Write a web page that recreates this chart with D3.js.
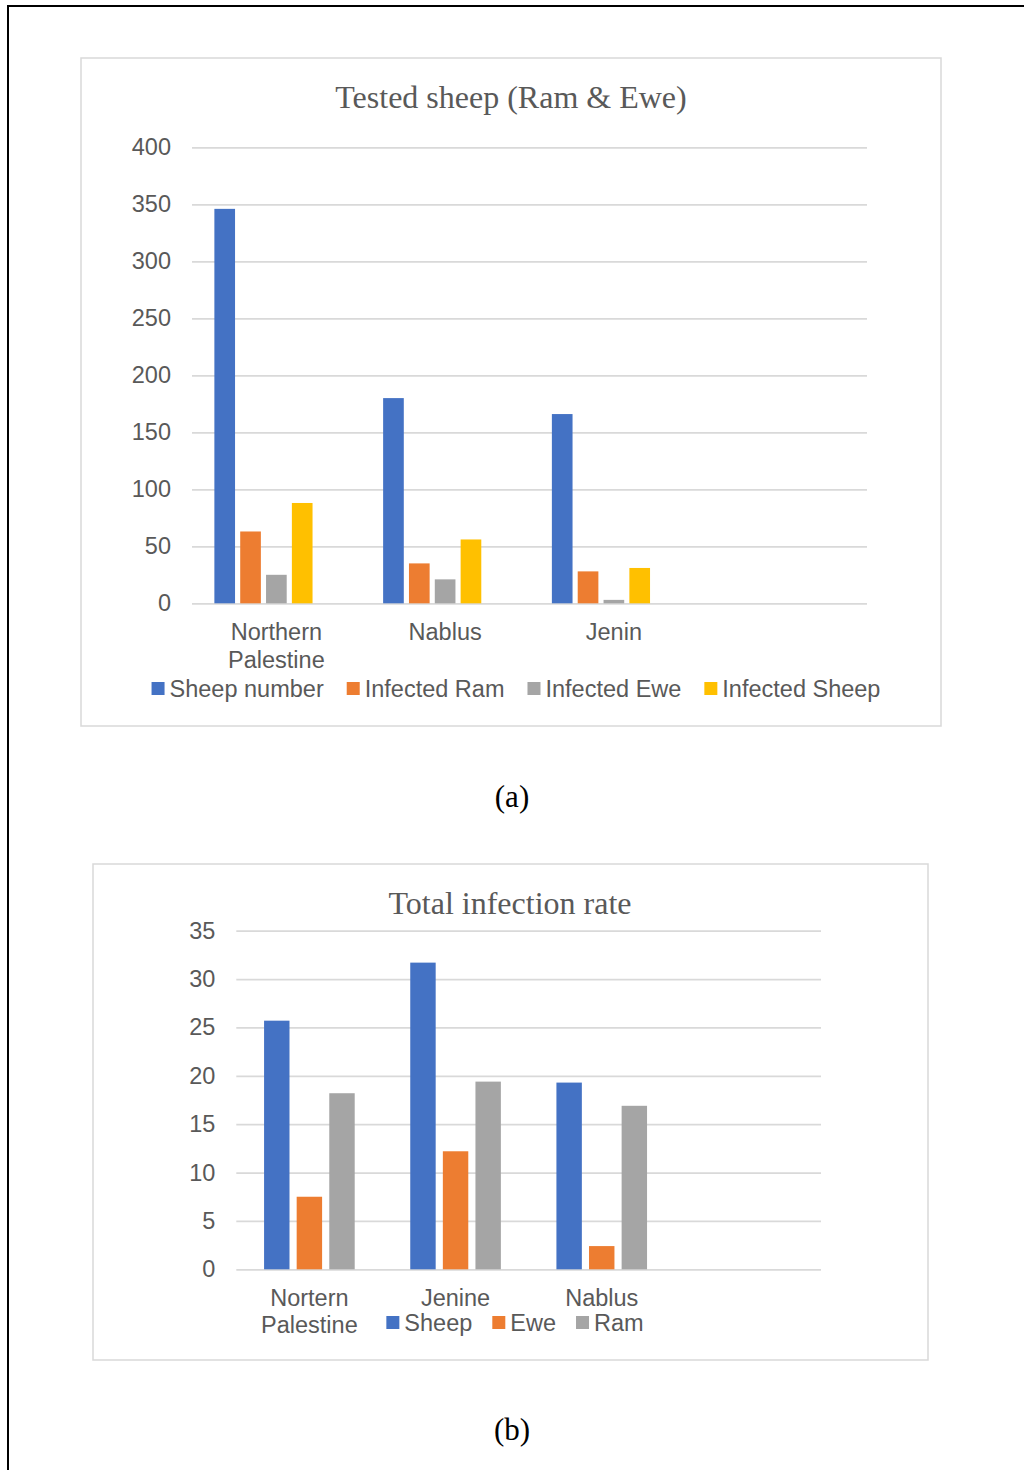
<!DOCTYPE html>
<html>
<head>
<meta charset="utf-8">
<script src="https://cdn.jsdelivr.net/npm/d3@7"></script>
<style>
  html, body { margin: 0; padding: 0; background: #fff; }
  svg { display: block; }
  .tick text { font-family: "Liberation Sans", Arial, sans-serif; fill: #595959; }
</style>
</head>
<body>
<svg id="fig" width="1024" height="1470"></svg>
<script>
// ---- (a) tested sheep per region ----
const regionsA = ["Northern Palestine", "Nablus", "Jenin", ""];
const sheepNumber   = [346, 180, 166, null];
const infectedRam   = [63, 35, 28, null];
const infectedEwe   = [25, 21, 3, null];
const infectedSheep = [88, 56, 31, null];
const seriesNamesA  = ["Sheep number", "Infected Ram", "Infected Ewe", "Infected Sheep"];
// the worksheet has a fifth, empty column that still takes a slot in each group
const slotsA = [...seriesNamesA, "(empty)"];
const yTicksA = [0, 50, 100, 150, 200, 250, 300, 350, 400];

// ---- (b) total infection rate ----
const regionsB = ["Nortern Palestine", "Jenine", "Nablus", ""];
const rateSheep = [25.7, 31.7, 19.3, null];
const rateEwe   = [7.5, 12.2, 2.4, null];
const rateRam   = [18.2, 19.4, 16.9, null];
const seriesNamesB = ["Sheep", "Ewe", "Ram"];
const yTicksB = [0, 5, 10, 15, 20, 25, 30, 35];

const palette = ["#4472C4", "#ED7D31", "#A5A5A5", "#FFC000"];
const SANS = '"Liberation Sans", Arial, sans-serif';
const SERIF = '"Liberation Serif", "Times New Roman", serif';
const TEXT = "#595959";
const GRID = "#d9d9d9";

const svg = d3.select("#fig");

// page frame
svg.append("line").attr("x1", 8).attr("y1", 6).attr("x2", 1024).attr("y2", 6)
  .attr("stroke", "#000").attr("stroke-width", 2);
svg.append("line").attr("x1", 8).attr("y1", 5).attr("x2", 8).attr("y2", 1470)
  .attr("stroke", "#000").attr("stroke-width", 2);

function drawChart(cfg) {
  const g = svg.append("g");
  // chart area border
  g.append("rect")
    .attr("x", cfg.box[0]).attr("y", cfg.box[1])
    .attr("width", cfg.box[2]).attr("height", cfg.box[3])
    .attr("fill", "#fff").attr("stroke", GRID).attr("stroke-width", 1.5);

  // title
  g.append("text")
    .attr("x", cfg.titleX).attr("y", cfg.titleY)
    .attr("text-anchor", "middle")
    .attr("font-family", SERIF).attr("font-size", 32).attr("fill", TEXT)
    .text(cfg.title);

  const y = d3.scaleLinear().domain(cfg.yDomain).range([cfg.plot.bottom, cfg.plot.top]);
  const x = d3.scaleBand().domain(cfg.categories).range([cfg.plot.left, cfg.plot.right]);
  const step = x.bandwidth();
  const inner = d3.scaleBand()
    .domain(cfg.slots)
    .range([cfg.groupInset * step, (1 - cfg.groupInset) * step])
    .paddingInner(cfg.barGap);

  // value axis with gridlines
  const yAxis = d3.axisLeft(y)
    .tickValues(cfg.yTicks)
    .tickSize(-(cfg.plot.right - cfg.plot.left))
    .tickPadding(21)
    .tickFormat(d3.format("d"));
  const ya = g.append("g")
    .attr("transform", `translate(${cfg.plot.left},0)`)
    .call(yAxis);
  ya.select(".domain").remove();
  ya.selectAll(".tick line").attr("stroke", GRID).attr("stroke-width", 1.8);
  ya.selectAll(".tick text").attr("font-size", 23.5).attr("fill", TEXT);

  // bars
  cfg.series.forEach((vals, si) => {
    const name = cfg.seriesNames[si];
    g.append("g").selectAll("rect")
      .data(cfg.categories.map((c, i) => ({ c, v: vals[i] })).filter(d => d.v != null))
      .join("rect")
      .attr("x", d => x(d.c) + inner(name))
      .attr("width", inner.bandwidth())
      .attr("y", d => y(d.v))
      .attr("height", d => y(0) - y(d.v))
      .attr("fill", palette[si]);
  });

  // category axis (labels only, wrapped on two lines)
  const xAxis = d3.axisBottom(x).tickSize(0).tickPadding(0);
  const xa = g.append("g")
    .attr("transform", `translate(0,${cfg.plot.bottom})`)
    .call(xAxis);
  xa.select(".domain").remove();
  xa.selectAll(".tick text")
    .attr("font-size", 23.5).attr("fill", TEXT)
    .attr("dy", null).attr("y", 0)
    .each(function (d) {
      const words = d.split(" ");
      const t = d3.select(this).text(null);
      words.forEach((w, i) => {
        t.append("tspan").attr("x", 0)
          .attr("y", cfg.labelOffset + i * cfg.labelLine)
          .text(w);
      });
    });

  // legend, centred under the plot
  const lg = g.append("g");
  const items = cfg.seriesNames.map((n, i) => {
    const it = lg.append("g");
    it.append("rect").attr("width", 13).attr("height", 13)
      .attr("y", cfg.legendY - 15).attr("fill", palette[i]);
    const t = it.append("text").attr("x", 18).attr("y", cfg.legendY)
      .attr("font-family", SANS).attr("font-size", 23.5).attr("fill", TEXT).text(n);
    return { it, w: 18 + t.node().getComputedTextLength() };
  });
  const gap = cfg.legendGap;
  const total = d3.sum(items, d => d.w) + gap * (items.length - 1);
  let cx = cfg.legendCenter - total / 2;
  items.forEach(d => { d.it.attr("transform", `translate(${cx},0)`); cx += d.w + gap; });

  // caption
  svg.append("text")
    .attr("x", 512).attr("y", cfg.captionY)
    .attr("text-anchor", "middle")
    .attr("font-family", SERIF).attr("font-size", 31).attr("fill", "#000")
    .text(cfg.caption);
}

drawChart({
  box: [81, 58, 860, 668],
  title: "Tested sheep (Ram & Ewe)",
  titleX: 511, titleY: 108,
  plot: { left: 192, right: 867, top: 147.3, bottom: 603.3 },
  yDomain: [0, 400], yTicks: yTicksA,
  categories: regionsA,
  seriesNames: seriesNamesA, slots: slotsA,
  series: [sheepNumber, infectedRam, infectedEwe, infectedSheep],
  groupInset: 0.1326, barGap: 0.2,
  labelOffset: 37, labelLine: 28,
  legendY: 697, legendCenter: 516, legendGap: 23,
  caption: "(a)", captionY: 807
});

drawChart({
  box: [93, 864, 835, 496],
  title: "Total infection rate",
  titleX: 510, titleY: 914,
  plot: { left: 236.3, right: 821, top: 930.7, bottom: 1269.3 },
  yDomain: [0, 35], yTicks: yTicksB,
  categories: regionsB,
  seriesNames: seriesNamesB, slots: seriesNamesB,
  series: [rateSheep, rateEwe, rateRam],
  groupInset: 0.19, barGap: 0.22,
  labelOffset: 37, labelLine: 27,
  legendY: 1331, legendCenter: 515, legendGap: 20,
  caption: "(b)", captionY: 1440
});
</script>
</body>
</html>
